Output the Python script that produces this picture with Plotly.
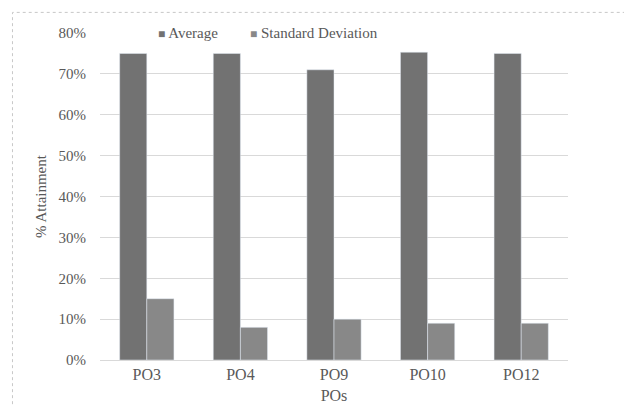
import plotly.graph_objects as go

categories = ["PO3", "PO4", "PO9", "PO10", "PO12"]
average = [0.75, 0.75, 0.71, 0.753, 0.75]
std_dev = [0.15, 0.08, 0.10, 0.09, 0.09]
y_ticks = [0, 0.1, 0.2, 0.3, 0.4, 0.5, 0.6, 0.7, 0.8]
y_tick_labels = ["0%", "10%", "20%", "30%", "40%", "50%", "60%", "70%", "80%"]
series_names = ["Average", "Standard Deviation"]
series_colors = ["#727272", "#888888"]

fig = go.Figure()
fig.add_trace(go.Bar(name=series_names[0], x=categories, y=average, marker_color=series_colors[0]))
fig.add_trace(go.Bar(name=series_names[1], x=categories, y=std_dev, marker_color=series_colors[1]))

font_family = "Liberation Serif, Times New Roman, DejaVu Serif, serif"
fig.update_layout(
    width=624, height=407,
    margin=dict(l=100, r=56, t=33, b=47),
    paper_bgcolor="white", plot_bgcolor="white",
    barmode="group", bargap=0.42, bargroupgap=0,
    font=dict(family=font_family, size=15, color="#595959"),
    showlegend=False,
    xaxis=dict(showgrid=False, showline=True, linecolor="#d9d9d9", ticks="", automargin=False,
               tickfont=dict(size=16),
               title=dict(text="POs", standoff=7, font=dict(size=16, color="#595959"))),
    yaxis=dict(range=[0, 0.8], tickvals=y_ticks, ticktext=y_tick_labels, automargin=False,
               showgrid=True, gridcolor="#d9d9d9", zeroline=False, showline=False,
               ticks="", ticklabelstandoff=13, tickfont=dict(size=15),
               title=dict(text="% Attainment", standoff=8, font=dict(size=15, color="#595959"))),
)
legend_x = [0.122, 0.318]
for name, color, lx in zip(series_names, series_colors, legend_x):
    fig.add_annotation(xref="paper", yref="paper", x=lx, y=1.0, xanchor="left", yanchor="middle",
                       showarrow=False, bgcolor="white", borderpad=0,
                       text=f"<span style='color:{color};font-size:12px'>■</span> {name}",
                       font=dict(size=15, color="#595959", family=font_family))
fig.add_shape(type="rect", xref="paper", yref="paper",
              x0=-0.187, y0=-0.2, x1=1.2, y1=1.063,
              line=dict(color="#c8c8c8", width=1, dash="dot"))
fig.write_html("out.html", config={"displayModeBar": False},
               post_script="document.body.style.margin='0px';")
